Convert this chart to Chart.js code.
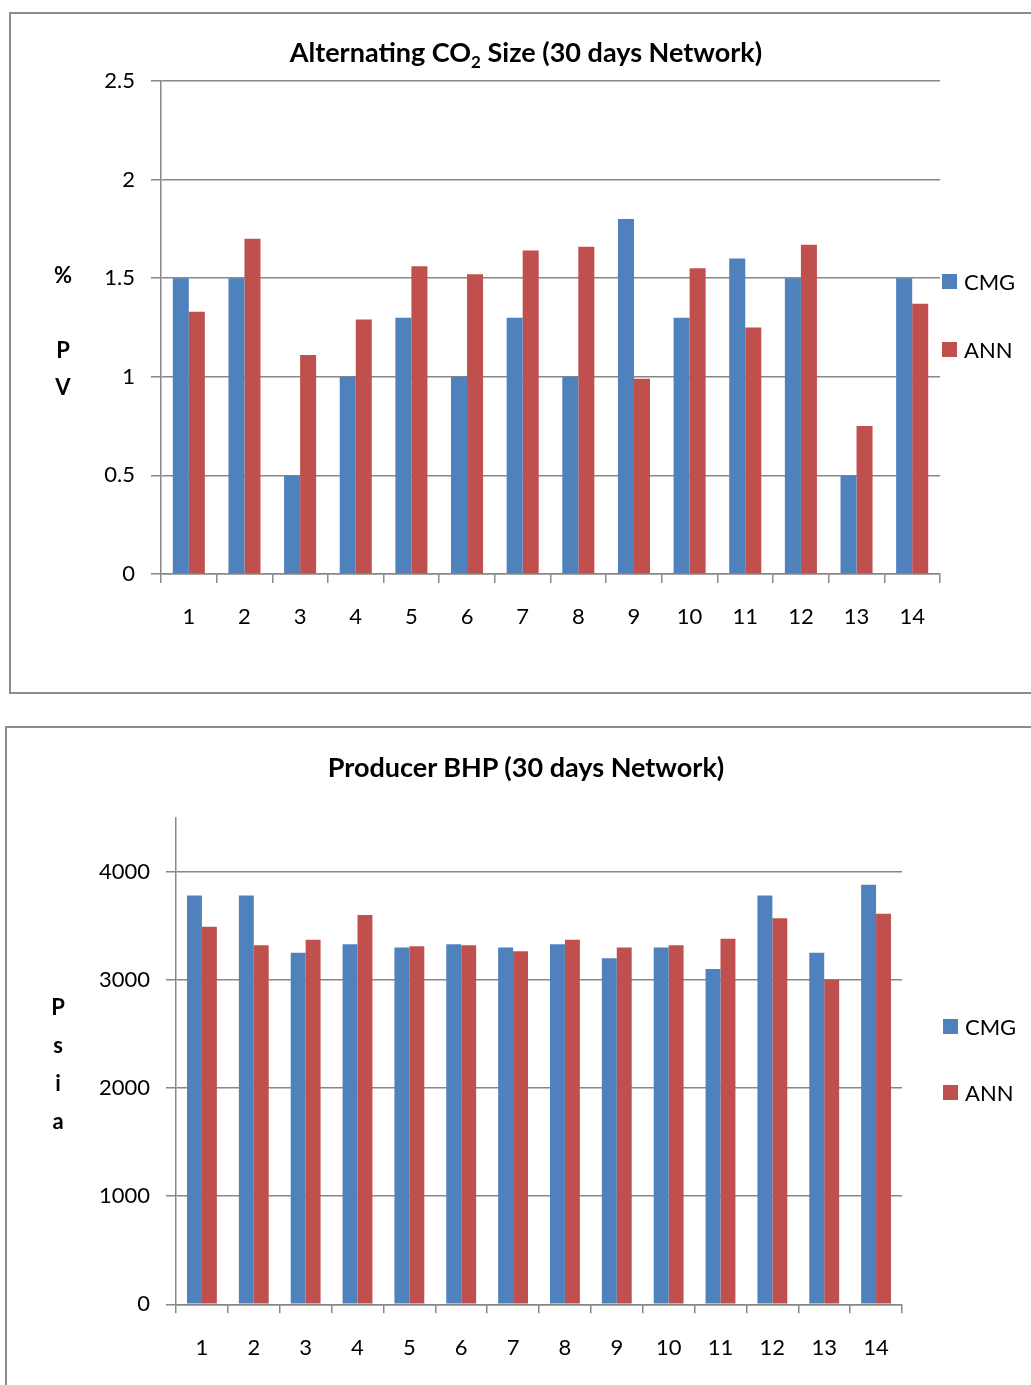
<!DOCTYPE html>
<html>
<head>
<meta charset="utf-8">
<title>CO2 size and producer BHP, 30 days network</title>
<script src="https://cdn.jsdelivr.net/npm/chart.js@4.4.0/dist/chart.umd.min.js"></script>
<style>
  html, body { margin: 0; padding: 0; background: #ffffff; }
  body { width: 1031px; height: 1385px; position: relative; overflow: hidden; }
  .frame { position: absolute; border: 2px solid #8c8c8c; box-sizing: border-box; }
  .wrap { position: absolute; left: 0; }
  canvas { display: block; }
  .title {
    position: absolute; left: 0; width: 1052px; text-align: center;
    font-family: Lato, "Open Sans", "DejaVu Sans", sans-serif;
    font-weight: bold; font-size: 27px; line-height: 32px; color: #000;
    white-space: nowrap; z-index: 2;
  }
  .title sub { font-size: 17px; vertical-align: -6px; line-height: 0; }
</style>
</head>
<body>
<div class="frame" style="left:9px; top:12px; width:1040px; height:682px;"></div>
<div class="frame" style="left:5px; top:726px; width:1040px; height:700px;"></div>
<div class="wrap" style="top:0; width:1031px; height:700px;"><canvas id="co2Chart" width="1031" height="700"></canvas></div>
<div class="wrap" style="top:700px; width:1031px; height:685px;"><canvas id="bhpChart" width="1031" height="685"></canvas></div>
<div class="title" style="top:36px;">Alternating CO<sub>2</sub> Size (30 days Network)</div>
<div class="title" style="top:751px;">Producer BHP (30 days Network)</div>

<script>
// Categories (cases 1..14)
const categories = ['1', '2', '3', '4', '5', '6', '7', '8', '9', '10', '11', '12', '13', '14'];

// Alternating CO2 size, % PV
const co2CMG = [1.5, 1.5, 0.5, 1.0, 1.3, 1.0, 1.3, 1.0, 1.8, 1.3, 1.6, 1.5, 0.5, 1.5];
const co2ANN = [1.33, 1.70, 1.11, 1.29, 1.56, 1.52, 1.64, 1.66, 0.99, 1.55, 1.25, 1.67, 0.75, 1.37];

// Producer BHP, psia
const bhpCMG = [3780, 3780, 3250, 3330, 3300, 3330, 3300, 3330, 3200, 3300, 3100, 3780, 3250, 3880];
const bhpANN = [3490, 3320, 3370, 3600, 3310, 3320, 3265, 3370, 3300, 3320, 3380, 3570, 3000, 3610];

// Tick values on the value axes
const co2Ticks = [0, 0.5, 1, 1.5, 2, 2.5];
const bhpTicks = [0, 1000, 2000, 3000, 4000];

// Vertical unit captions, one character per line
const co2Unit = ['%', '', 'P', 'V'];
const bhpUnit = ['P', 's', 'i', 'a'];

const BLUE = '#4f81bd';
const RED = '#c0504d';
const GRID = '#878787';
const FONT = 'Lato, "Open Sans", "DejaVu Sans", sans-serif';

// Draws the stacked unit caption and the series key beside the plot
const sideText = {
  id: 'sideText',
  afterDraw(chart, args, opts) {
    const ctx = chart.ctx;
    ctx.save();
    ctx.fillStyle = '#000';
    ctx.textBaseline = 'middle';

    ctx.font = 'bold 22px ' + FONT;
    ctx.textAlign = 'center';
    const lines = opts.unit;
    lines.forEach((s, i) => {
      const y = opts.unitY + (i - (lines.length - 1) / 2) * opts.unitGap;
      ctx.fillText(s, opts.unitX, y);
    });

    ctx.font = '22px ' + FONT;
    ctx.textAlign = 'left';
    chart.data.datasets.forEach((ds, i) => {
      const y = opts.keyY[i];
      ctx.fillStyle = ds.backgroundColor;
      ctx.fillRect(opts.keyX, y - 7.5, 15, 15);
      ctx.fillStyle = '#000';
      ctx.fillText(ds.label, opts.keyX + 22, y + 1);
    });
    ctx.restore();
  }
};

function makeChart(id, cfg) {
  return new Chart(document.getElementById(id), {
    type: 'bar',
    data: {
      labels: categories,
      datasets: [
        { label: 'CMG', data: cfg.cmg, backgroundColor: BLUE, borderWidth: 0,
          categoryPercentage: 0.576, barPercentage: 1.0 },
        { label: 'ANN', data: cfg.ann, backgroundColor: RED, borderWidth: 0,
          categoryPercentage: 0.576, barPercentage: 1.0 }
      ]
    },
    options: {
      responsive: false,
      animation: false,
      layout: { padding: cfg.padding },
      plugins: {
        legend: { display: false },
        tooltip: { enabled: false },
        title: { display: false },
        sideText: cfg.side
      },
      scales: {
        x: {
          type: 'category',
          offset: true,
          afterFit(scale) { scale.height = cfg.xHeight; },
          grid: { display: true, drawOnChartArea: false, drawTicks: true, tickLength: 9,
                  color: GRID, lineWidth: 1.5, offset: true },
          border: { display: true, color: GRID, width: 1.5 },
          ticks: { color: '#000', font: { family: FONT, size: 22 }, padding: 21,
                   maxRotation: 0, autoSkip: false }
        },
        y: {
          min: 0,
          max: cfg.max,
          afterFit(scale) { scale.width = cfg.yWidth; },
          afterBuildTicks(scale) { scale.ticks = cfg.ticks.map(v => ({ value: v })); },
          grid: { color: GRID, lineWidth: 1.5, drawTicks: true, tickLength: 10 },
          border: { display: true, color: GRID, width: 1.5 },
          ticks: { color: '#000', font: { family: FONT, size: 22 }, padding: 16,
                   callback: v => String(v) }
        }
      }
    },
    plugins: [sideText]
  });
}

makeChart('co2Chart', {
  cmg: co2CMG, ann: co2ANN, max: 2.5, ticks: co2Ticks,
  padding: { left: 40, right: 91, top: 81, bottom: 0 },
  yWidth: 121, xHeight: 126,
  side: { unit: co2Unit, unitX: 63, unitY: 332, unitGap: 37.3, keyX: 942, keyY: [281.5, 349.5] }
});

makeChart('bhpChart', {
  cmg: bhpCMG, ann: bhpANN, max: 4500, ticks: bhpTicks,
  padding: { left: 40, right: 129, top: 117.6, bottom: 0 },
  yWidth: 136, xHeight: 80.7,
  side: { unit: bhpUnit, unitX: 58, unitY: 365, unitGap: 38, keyX: 943, keyY: [326.5, 392.5] }
});
</script>
</body>
</html>
